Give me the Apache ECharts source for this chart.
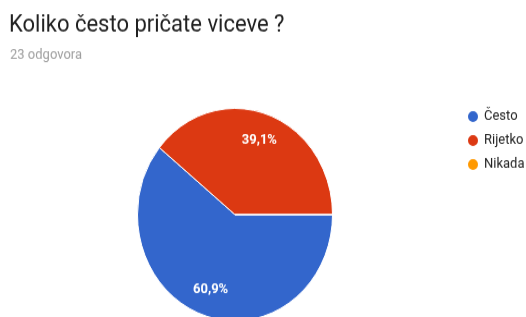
<!DOCTYPE html>
<html>
<head>
<meta charset="utf-8">
<script src="https://cdn.jsdelivr.net/npm/echarts@6/dist/echarts.min.js"></script>
<style>
  html, body { margin: 0; padding: 0; background: #fff; overflow: hidden; width: 526px; height: 317px; }
  /* the screenshot is a bit taller than wide, so stretch the whole chart vertically */
  #chart { width: 526px; height: 291px; transform: scaleY(1.0894); transform-origin: 0 0; }
</style>
</head>
<body>
<div id="chart"></div>
<script>
  const question = 'Koliko često pričate viceve ?'
  const answers = ['Često', 'Rijetko', 'Nikada']
  const counts = [14, 9, 0]

  const total = counts.reduce((a, b) => a + b, 0)
  const pieData = answers.map((name, i) => ({ name: name, value: counts[i] }))

  const chart = echarts.init(document.getElementById('chart'))

  const option = {
    color: ['#3366cc', '#dc3912', '#ff9900'],
    textStyle: { fontFamily: 'Roboto' },
    title: [
      {
        text: question,
        left: 4,
        top: 7,
        textStyle: { fontSize: 22, fontWeight: 'normal', color: '#212121', fontFamily: 'Roboto' }
      },
      {
        text: total + ' odgovora',
        left: 5,
        top: 39,
        textStyle: { fontSize: 13, fontWeight: 'normal', color: '#9e9e9e', fontFamily: 'Roboto' }
      }
    ],
    legend: {
      orient: 'vertical',
      left: 461,
      top: 95,
      icon: 'circle',
      itemWidth: 12,
      itemHeight: 12,
      itemGap: 8,
      textStyle: { fontSize: 13, color: '#222', fontFamily: 'Roboto' },
      data: answers
    },
    series: [
      {
        // the slices
        type: 'pie',
        center: [235, 197],
        radius: [0, 97.5],
        startAngle: 0,
        clockwise: true,
        silent: true,
        label: { show: false },
        labelLine: { show: false },
        itemStyle: { borderColor: '#fff', borderWidth: 1 },
        data: pieData
      },
      {
        // transparent ring only used to put the labels further out
        type: 'pie',
        center: [235, 197],
        radius: [42, 97.5],
        startAngle: 0,
        clockwise: true,
        silent: true,
        percentPrecision: 1,
        legendHoverLink: false,
        itemStyle: { color: 'transparent' },
        label: {
          show: true,
          position: 'inside',
          color: '#fff',
          fontSize: 13,
          fontWeight: 'bold',
          fontFamily: 'Roboto',
          formatter: p => p.value ? String(p.percent).replace('.', ',') + '%' : ''
        },
        labelLine: { show: false },
        data: pieData
      }
    ]
  }

  chart.setOption(option)
</script>
</body>
</html>
